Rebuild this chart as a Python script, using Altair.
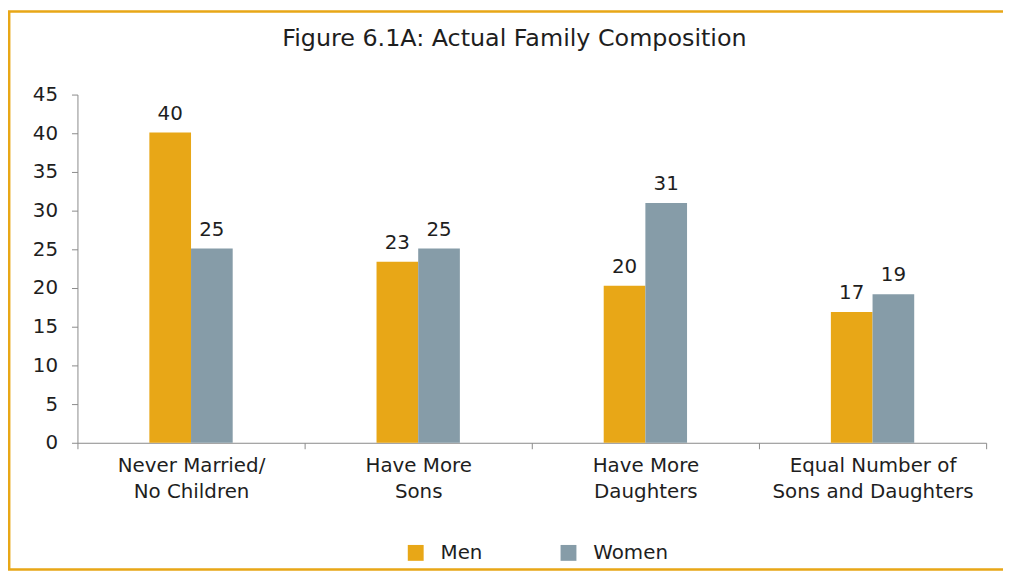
import altair as alt
import pandas as pd

# ---- data ----
categories = [
    "Never Married/\nNo Children",
    "Have More\nSons",
    "Have More\nDaughters",
    "Equal Number of\nSons and Daughters",
]
groups = ["Men", "Women"]
men = [40.1, 23.4, 20.3, 16.9]
women = [25.1, 25.1, 31.0, 19.2]
colors = ["#E8A717", "#869CA8"]
y_ticks = [0, 5, 10, 15, 20, 25, 30, 35, 40, 45]
title_text = "Figure 6.1A: Actual Family Composition"

rows = []
for c, m, w in zip(categories, men, women):
    rows.append({"category": c, "group": "Men", "value": m})
    rows.append({"category": c, "group": "Women", "value": w})
df = pd.DataFrame(rows)

FONT = "DejaVu Sans"
TXT = "#1e1e1e"
AXC = "#8a8a8a"
W, H = 916, 351

# empty slots on either side of the pair keep the bars narrow and centred
offset_domain = ["_left"] + groups + ["_right"]

base = alt.Chart(df).encode(
    x=alt.X(
        "category:N",
        sort=categories,
        scale=alt.Scale(paddingInner=0, paddingOuter=0),
        axis=alt.Axis(
            title=None,
            labelAngle=0,
            labelExpr="split(datum.label, '\\n')",
            tickBand="extent",
            tickSize=6,
            tickColor=AXC,
            domainColor=AXC,
            labelFont=FONT,
            labelFontSize=20,
            labelLineHeight=26,
            labelColor=TXT,
            labelPadding=7,
            labelLimit=400,
        ),
    ),
    xOffset=alt.XOffset(
        "group:N",
        scale=alt.Scale(domain=offset_domain, paddingOuter=0.726, paddingInner=0),
    ),
    y=alt.Y(
        "value:Q",
        scale=alt.Scale(domain=[0, 45], nice=False),
        axis=alt.Axis(
            title=None,
            values=y_ticks,
            grid=False,
            tickSize=6,
            tickColor=AXC,
            domainColor=AXC,
            labelFont=FONT,
            labelFontSize=20,
            labelColor=TXT,
            labelPadding=14,
        ),
    ),
)

bars = base.mark_bar().encode(
    color=alt.Color(
        "group:N",
        scale=alt.Scale(domain=groups, range=colors),
        legend=alt.Legend(
            title=None,
            orient="none",
            legendX=331,
            legendY=452,
            direction="horizontal",
            symbolType="square",
            symbolSize=256,
            symbolStrokeWidth=0,
            symbolOpacity=1,
            labelFont=FONT,
            labelFontSize=20,
            labelColor=TXT,
            labelOffset=15,
            columnPadding=76,
            padding=0,
        ),
    )
)

labels = base.mark_text(
    baseline="alphabetic", dy=-13, fontSize=20, font=FONT, color=TXT
).encode(text=alt.Text("value:Q", format=".0f"))

border = (
    alt.Chart(alt.Data(values=[{"a": 1}]))
    .mark_rect(fillOpacity=0, stroke="#E8A717", strokeWidth=2.5)
    .encode(
        x=alt.value(-68.8),
        x2=alt.value(960),
        y=alt.value(-83.8),
        y2=alt.value(478.8),
    )
)

chart = (
    alt.layer(border, bars, labels)
    .properties(
        width=W,
        height=H,
        title=alt.TitleParams(
            title_text,
            font=FONT,
            fontSize=24,
            fontWeight="normal",
            color=TXT,
            anchor="middle",
            baseline="alphabetic",
            dx=-17.5,
            offset=-60,
        ),
        autosize=alt.AutoSizeParams(type="none"),
        padding={"left": 70, "top": 85, "right": 17, "bottom": 129},
    )
    .configure_view(strokeWidth=0)
)

chart.save("out.html", embed_options={"renderer": "svg", "actions": False})
